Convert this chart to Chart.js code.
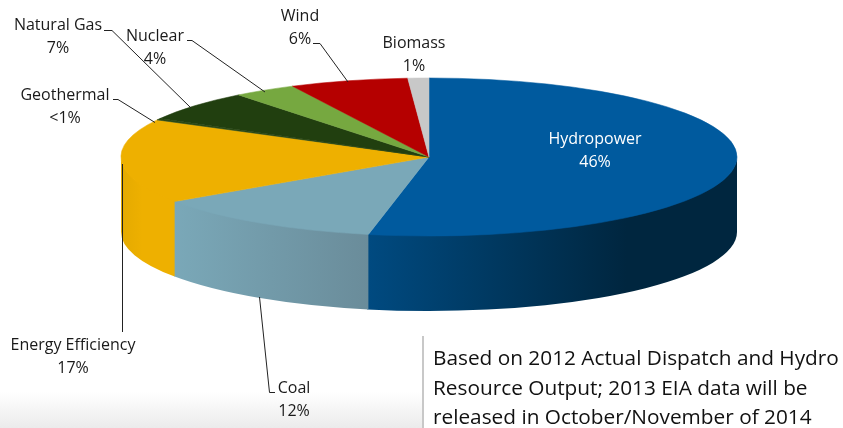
<!DOCTYPE html>
<html>
<head>
<meta charset="utf-8">
<script src="https://cdn.jsdelivr.net/npm/chart.js@4"></script>
<style>
  html, body { margin: 0; padding: 0; background: #fff; overflow: hidden; }
  #wrap { position: relative; width: 843px; height: 428px; }
  #shade { position: absolute; left: 0; top: 392px; width: 422px; height: 36px; background: linear-gradient(#fff, #ebebeb); }
  #chart { position: absolute; left: 0; top: 0; }
</style>
</head>
<body>
<div id="wrap">
  <div id="shade"></div>
  <canvas id="chart" width="843" height="428"></canvas>
</div>
<script>
const categories = ['Hydropower', 'Coal', 'Energy Efficiency', 'Geothermal', 'Natural Gas', 'Nuclear', 'Wind', 'Biomass'];
// slice sizes as drawn in the picture (the hydro slice is drawn bigger than its printed 46%)
const sliceShares = [53.1, 12.3, 17.3, 0.3, 6.3, 3.3, 6.2, 1.1];
const printedLabels = ['46%', '12%', '17%', '<1%', '7%', '4%', '6%', '1%'];
const topColors = ['#005a9e', '#7aa8b8', '#eeb000', '#2c4a14', '#213f0f', '#76a840', '#b50000', '#c8c8c8'];

const noteLines = [
  'Based on 2012 Actual Dispatch and Hydro',
  'Resource Output; 2013 EIA data will be',
  'released in October/November of 2014'
];

// side wall gradients, left to right
const wallStops = {
  Hydropower: [[0, '#004a80'], [0.7, '#00263f'], [1, '#00263f']],
  Coal: [[0, '#7aa8b8'], [1, '#6a8c9a']],
  'Energy Efficiency': [[0, '#e4aa00'], [0.4, '#eeb000'], [1, '#eeb000']]
};

const pie = { cx: 429, cy: 157, rx: 308, ry: 79, depth: 75 };

// label text centres and leader lines, indexed like categories
const labelLayout = [
  { x: 595, y: 139, color: '#fff', lead: null },
  { x: 294, y: 388, lead: [[259.5, 297], [269.5, 392.5], [275, 392.5]] },
  { x: 73, y: 345, lead: [[122.5, 164], [122.5, 332]] },
  { x: 65, y: 95, lead: [[113, 99.5], [118, 99.5], [155, 122.5]] },
  { x: 58, y: 25, lead: [[104, 30.5], [112, 30.5], [191, 108]] },
  { x: 155, y: 36, lead: [[187, 40.5], [192, 40.5], [265, 92]] },
  { x: 300, y: 16, lead: [[313, 43.5], [320, 43.5], [348, 82]] },
  { x: 414, y: 43, lead: null }
];

const solidPie = {
  id: 'solidPie',
  beforeDatasetsDraw(chart) {
    const ctx = chart.ctx;
    const arcs = chart.getDatasetMeta(0).data;
    // walls: only the front half of the rim is visible
    arcs.forEach((arc, i) => {
      const stops = wallStops[categories[i]];
      if (!stops) return;
      const start = Math.max(arc.startAngle, 0);
      const end = Math.min(arc.endAngle, Math.PI);
      if (end <= start) return;
      const x0 = pie.cx + pie.rx * Math.cos(end);
      const x1 = pie.cx + pie.rx * Math.cos(start);
      const grad = ctx.createLinearGradient(x0, 0, x1, 0);
      stops.forEach(s => grad.addColorStop(s[0], s[1]));
      ctx.save();
      ctx.fillStyle = grad;
      ctx.beginPath();
      // tiny overlap so no white seams show between walls and under the top
      ctx.ellipse(pie.cx, pie.cy - 1, pie.rx, pie.ry, 0, start, end + 0.004);
      ctx.ellipse(pie.cx, pie.cy + pie.depth, pie.rx, pie.ry, 0, end + 0.004, start, true);
      ctx.closePath();
      ctx.fill();
      ctx.restore();
    });
    // flatten the library's round pie onto the top ellipse
    const first = arcs[0];
    ctx.save();
    ctx.translate(pie.cx, pie.cy);
    ctx.scale(pie.rx / first.outerRadius, pie.ry / first.outerRadius);
    ctx.translate(-first.x, -first.y);
  },
  afterDatasetsDraw(chart) {
    chart.ctx.restore();
  },
  afterDraw(chart) {
    const ctx = chart.ctx;
    ctx.save();
    ctx.font = '16px "Open Sans"';
    ctx.textAlign = 'center';
    ctx.textBaseline = 'middle';
    categories.forEach((name, i) => {
      const l = labelLayout[i];
      ctx.fillStyle = l.color || '#1a1a1a';
      ctx.fillText(name, l.x, l.y);
      ctx.fillText(printedLabels[i], l.x, l.y + 23);
      if (l.lead) {
        ctx.strokeStyle = '#222';
        ctx.lineWidth = 1;
        ctx.beginPath();
        l.lead.forEach((p, k) => k ? ctx.lineTo(p[0], p[1]) : ctx.moveTo(p[0], p[1]));
        ctx.stroke();
      }
    });
    // note on the lower right
    ctx.strokeStyle = '#c8c8c8';
    ctx.lineWidth = 2;
    ctx.beginPath();
    ctx.moveTo(423, 336);
    ctx.lineTo(423, 428);
    ctx.stroke();
    ctx.font = '20.8px "Open Sans"';
    ctx.textAlign = 'left';
    ctx.fillStyle = '#111';
    noteLines.forEach((t, i) => ctx.fillText(t, 433, 359.5 + i * 29.5));
    ctx.restore();
  }
};

new Chart(document.getElementById('chart'), {
  type: 'pie',
  data: {
    labels: categories,
    datasets: [{
      data: sliceShares,
      backgroundColor: topColors,
      borderColor: topColors,
      borderWidth: 0.6,
      clip: false
    }]
  },
  options: {
    responsive: false,
    animation: false,
    plugins: { legend: { display: false }, tooltip: { enabled: false } }
  },
  plugins: [solidPie]
});
</script>
</body>
</html>
